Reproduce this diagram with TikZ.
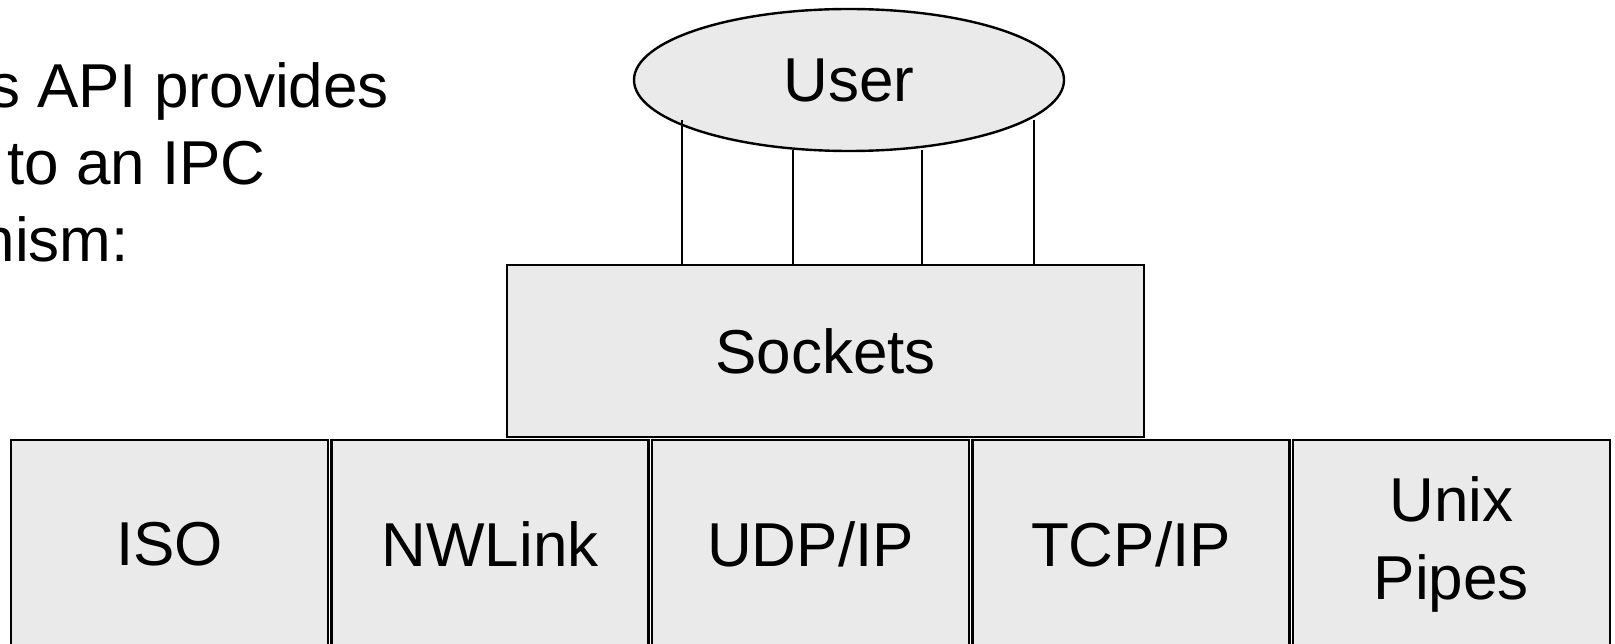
\documentclass[tikz,border=0pt]{standalone}
\usepackage{fontspec}
\setmainfont{Liberation Sans}
\usetikzlibrary{positioning, shapes.geometric}
\definecolor{boxgray}{RGB}{234,234,234}

\tikzset{
  bigfont/.style={font=\fontsize{62}{78}\selectfont},
  layer/.style={draw, line width=2.4pt, fill=boxgray, inner sep=0pt, align=center, bigfont},
  proto/.style={layer, minimum width=317pt, minimum height=208pt, anchor=north west},
  wire/.style={line width=1.9pt}
}

\begin{document}
\begin{tikzpicture}[x=1pt, y=-1pt]
    % --- Frame ---
    \useasboundingbox (0,0) rectangle (1615,644);

    % --- Intro text, cut off at the left edge ---
    \node[anchor=base east, inner sep=0pt, bigfont] (txta) at (389,108) {s API provides};
    \node[anchor=base east, inner sep=0pt, bigfont] (txtb) at (266,185) {to an IPC};
    \node[anchor=base east, inner sep=0pt, bigfont] (txtc) at (129,262) {nism:};

    % --- Protocol row ---
    \node[proto] (iso) at (10,439) {ISO};
    \node[proto, right=1pt of iso] (nwlink) {NWLink};
    \node[proto, right=1pt of nwlink] (udp) {UDP/IP};
    \node[proto, right=1pt of udp] (tcp) {TCP/IP};
    \node[proto, right=1pt of tcp] (pipes) {Unix\\Pipes};

    % --- Sockets layer ---
    \node[layer, minimum width=637pt, minimum height=172pt] (sockets) at (825.5,351) {Sockets};

    % --- User ---
    \node[layer, ellipse, minimum width=430pt, minimum height=142pt] (user) at (849,80) {User};

    % --- Links from user down to sockets ---
    \coordinate (u1) at (682,120);
    \coordinate (u2) at (793,150);
    \coordinate (u3) at (922,150);
    \coordinate (u4) at (1034,120);
    \foreach \c in {u1,u2,u3,u4}
      \draw[wire] (\c) -- (\c |- sockets.north);
\end{tikzpicture}
\end{document}
